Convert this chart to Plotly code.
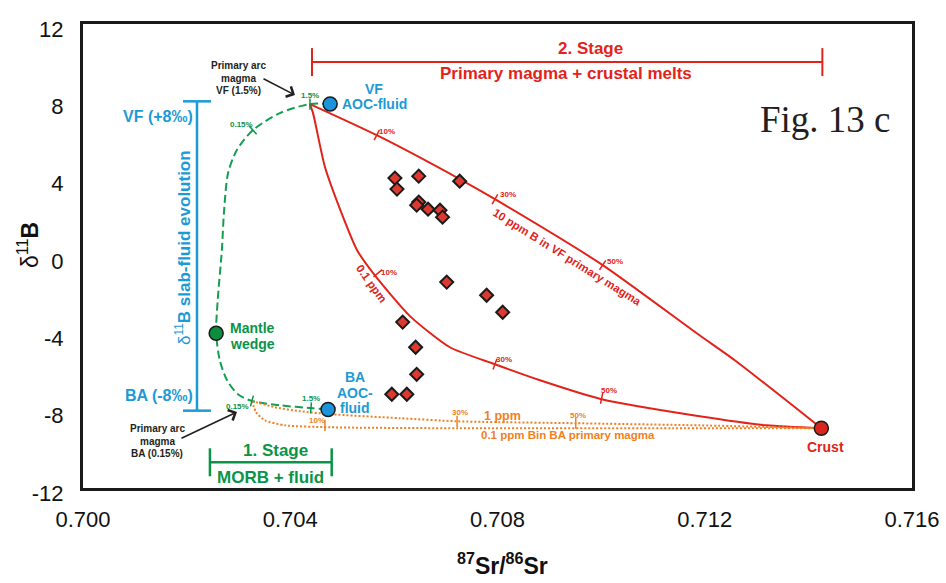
import plotly.graph_objects as go

# ---------------- data ----------------
x_ticks = [0.700, 0.704, 0.708, 0.712, 0.716]
x_tick_labels = ["0.700", "0.704", "0.708", "0.712", "0.716"]
y_ticks = [12, 8, 4, 0, -4, -8, -12]
y_tick_labels = ["12", "8", "4", "0", "-4", "-8", "-12"]

# measured samples (87Sr/86Sr, d11B)
sample_sr = [0.70602, 0.70606, 0.70648, 0.70727, 0.70648, 0.70644, 0.70666, 0.70689, 0.70694,
             0.70702, 0.70779, 0.70810, 0.70617, 0.70642, 0.70644, 0.70596, 0.70625]
sample_b = [4.03, 3.46, 4.13, 3.87, 2.79, 2.63, 2.42, 2.37, 2.01,
            -1.35, -2.03, -2.91, -3.42, -4.72, -6.12, -7.15, -7.15]

# slab-fluid evolution curve (VF AOC-fluid -> mantle wedge -> BA AOC-fluid)
slab_fluid_sr = [0.70477, 0.70438, 0.70380, 0.70328, 0.70297, 0.70280, 0.70272, 0.70268, 0.70260,
                 0.70257, 0.70264, 0.70278, 0.70299, 0.70326, 0.70380, 0.70444, 0.70473]
slab_fluid_b = [7.86, 7.86, 7.39, 6.51, 5.48, 4.29, 2.22, 0.30, -2.29,
                -3.99, -5.39, -6.43, -7.15, -7.50, -7.72, -7.88, -7.94]

# VF primary magma - crust mixing (10 ppm B)
vf_10ppm_sr = [0.70438, 0.70567, 0.70727, 0.70795, 0.71003, 0.71190, 0.71258, 0.71425]
vf_10ppm_b = [7.86, 6.25, 3.98, 2.94, -0.47, -4.10, -5.39, -8.91]
# VF primary magma - crust mixing (0.1 ppm B)
vf_01ppm_sr = [0.70438, 0.70444, 0.70467, 0.70502, 0.70529, 0.70563, 0.70631, 0.70708,
               0.70795, 0.70882, 0.71001, 0.71190, 0.71319, 0.71425]
vf_01ppm_b = [7.86, 7.39, 4.60, 2.01, 0.30, -0.99, -3.11, -4.72,
              -5.60, -6.43, -7.41, -8.29, -8.76, -8.91]
# BA primary magma - crust mixing (1 ppm B)
ba_1ppm_sr = [0.70326, 0.70370, 0.70419, 0.70477, 0.70612, 0.70722, 0.70951, 0.71190, 0.71425]
ba_1ppm_b = [-7.50, -7.82, -8.03, -8.18, -8.39, -8.55, -8.65, -8.76, -8.91]
# BA primary magma - crust mixing (0.1 ppm B)
ba_01ppm_sr = [0.70326, 0.70334, 0.70351, 0.70390, 0.70477, 0.70722, 0.71138, 0.71425]
ba_01ppm_b = [-7.50, -8.08, -8.50, -8.76, -8.86, -8.91, -8.91, -8.91]

# end members
aoc_fluid_sr = [0.70477, 0.70473]
aoc_fluid_b = [7.86, -7.94]
mantle_sr = [0.70257]
mantle_b = [-4.0]
crust_sr = [0.71425]
crust_b = [-8.91]

# percentage marks on mixing curves
red_mark_sr = [0.70567, 0.70795, 0.71003, 0.70569, 0.70795, 0.71001]
red_mark_b = [6.25, 2.94, -0.47, -0.89, -5.60, -7.36]
red_mark_text = ["10%", "30%", "50%", "10%", "30%", "50%"]
orange_mark_sr = [0.70722, 0.70951, 0.70467]
orange_mark_b = [-8.55, -8.65, -8.76]
orange_mark_text = ["30%", "50%", "10%"]
green_mark_sr = [0.70438, 0.70328, 0.70326, 0.70440]
green_mark_b = [7.86, 6.51, -7.50, -7.86]
green_mark_text = ["1.5%", "0.15%", "0.15%", "1.5%"]

# stage / range bars
slab_range_sr = [0.7022, 0.7022]
slab_range_b = [8, -8]
stage1_sr = [0.70245, 0.70480]
stage1_b = [-10.67, -10.67]
stage2_sr = [0.70442, 0.71427]
stage2_b = [10.03, 10.03]

# ---------------- styles ----------------
RED = "#e2231a"
BLUE = "#1c9ad6"
GREEN = "#0a9448"
ORANGE = "#f07f22"
FONT = "Liberation Sans"

W, H = 946, 583
ML, MR, MT, MB = 83, 34, 24, 95
PW, PH = W - ML - MR, H - MT - MB

fig = go.Figure()

# slab-fluid curve
fig.add_trace(go.Scatter(x=slab_fluid_sr, y=slab_fluid_b, mode="lines",
                         line=dict(color="#12a050", width=2, dash="8px,4px", shape="spline", smoothing=0.8),
                         hoverinfo="skip"))
# mixing curves
fig.add_trace(go.Scatter(x=vf_10ppm_sr, y=vf_10ppm_b, mode="lines",
                         line=dict(color=RED, width=2, shape="spline", smoothing=0.6), hoverinfo="skip"))
fig.add_trace(go.Scatter(x=vf_01ppm_sr, y=vf_01ppm_b, mode="lines",
                         line=dict(color=RED, width=2, shape="spline", smoothing=0.6), hoverinfo="skip"))
fig.add_trace(go.Scatter(x=ba_1ppm_sr, y=ba_1ppm_b, mode="lines",
                         line=dict(color=ORANGE, width=2, dash="2px,2px", shape="spline", smoothing=0.6),
                         hoverinfo="skip"))
fig.add_trace(go.Scatter(x=ba_01ppm_sr, y=ba_01ppm_b, mode="lines",
                         line=dict(color=ORANGE, width=2, dash="2px,2px", shape="spline", smoothing=0.6),
                         hoverinfo="skip"))

# percent marks
fig.add_trace(go.Scatter(x=red_mark_sr, y=red_mark_b, mode="markers",
                         marker=dict(symbol="line-ns", size=8, angle=[28, 30, 34, 50, 20, 12],
                                     line=dict(color=RED, width=1.5)), hoverinfo="skip"))
fig.add_trace(go.Scatter(x=orange_mark_sr, y=orange_mark_b, mode="markers",
                         marker=dict(symbol="line-ns", size=8, line=dict(color=ORANGE, width=1.5)),
                         hoverinfo="skip"))
fig.add_trace(go.Scatter(x=green_mark_sr, y=green_mark_b, mode="markers",
                         marker=dict(symbol="line-ns", size=8, angle=[0, -41, 15, 4],
                                     line=dict(color=GREEN, width=1.5)), hoverinfo="skip"))

# range bars
fig.add_trace(go.Scatter(x=slab_range_sr, y=slab_range_b, mode="lines+markers",
                         line=dict(color=BLUE, width=2.5),
                         marker=dict(symbol="line-ew", size=20, line=dict(color=BLUE, width=2.5)),
                         hoverinfo="skip"))
fig.add_trace(go.Scatter(x=stage1_sr, y=stage1_b, mode="lines+markers",
                         line=dict(color=GREEN, width=2.5),
                         marker=dict(symbol="line-ns", size=20, line=dict(color=GREEN, width=2.5)),
                         hoverinfo="skip"))
fig.add_trace(go.Scatter(x=stage2_sr, y=stage2_b, mode="lines+markers",
                         line=dict(color=RED, width=2),
                         marker=dict(symbol="line-ns", size=20, line=dict(color=RED, width=2)),
                         hoverinfo="skip"))

# samples
fig.add_trace(go.Scatter(x=sample_sr, y=sample_b, mode="markers",
                         marker=dict(symbol="diamond", size=10, color="#dc3a31",
                                     line=dict(color="#1a1a1a", width=2)), hoverinfo="skip"))
# end members
fig.add_trace(go.Scatter(x=aoc_fluid_sr, y=aoc_fluid_b, mode="markers",
                         marker=dict(symbol="circle", size=14, color="#1b94dc",
                                     line=dict(color="#1a1a1a", width=1.5)), hoverinfo="skip"))
fig.add_trace(go.Scatter(x=mantle_sr, y=mantle_b, mode="markers",
                         marker=dict(symbol="circle", size=14, color="#0b8f3f",
                                     line=dict(color="#1a1a1a", width=1.5)), hoverinfo="skip"))
fig.add_trace(go.Scatter(x=crust_sr, y=crust_b, mode="markers",
                         marker=dict(symbol="circle", size=14, color="#d9261c",
                                     line=dict(color="#1a1a1a", width=1.5)), hoverinfo="skip"))

annotations = []


def pos(px, py):
    return (px - ML) / PW, (MT + PH - py) / PH


def txt(s, px, py, color, size, angle=0, xanchor="center", family=FONT, bold=True):
    x, y = pos(px, py)
    annotations.append(dict(text=("<b>%s</b>" % s) if bold else s, x=x, y=y, xref="paper", yref="paper",
                            showarrow=False, xanchor=xanchor, yanchor="middle", textangle=angle,
                            font=dict(family=family, size=size, color=color)))


def arrow(hx, hy, tx, ty):
    x, y = pos(hx, hy)
    annotations.append(dict(text="", x=x, y=y, xref="paper", yref="paper", ax=tx - hx, ay=ty - hy,
                            axref="pixel", ayref="pixel", showarrow=True, arrowhead=4, arrowsize=1.4,
                            arrowwidth=1.6, arrowcolor="#231f20"))


DARK = "#231f20"
# primary arc magma notes
for s, yy in zip(["Primary arc", "magma", "VF (1.5%)"], [65, 78, 91]):
    txt(s, 238, yy, DARK, 10)
arrow(295, 95, 262, 78)
for s, yy in zip(["Primary arc", "magma", "BA (0.15%)"], [428, 441, 453]):
    txt(s, 157, yy, DARK, 10)
arrow(237, 412, 180, 439)

# AOC fluids
txt("VF", 374, 89, BLUE, 14)
txt("AOC-fluid", 374, 104, BLUE, 14)
for s, yy in zip(["BA", "AOC-", "fluid"], [377, 393, 408]):
    txt(s, 355, yy, BLUE, 14)
# mantle
txt("Mantle", 228, 328, GREEN, 14, xanchor="left")
txt("wedge", 228, 344, GREEN, 14, xanchor="left")
# slab fluid range
txt("VF (+8‰)", 195, 116, BLUE, 16, xanchor="right")
txt("BA (-8‰)", 195, 395, BLUE, 16, xanchor="right")
annotations.append(dict(text="δ<sup>11</sup><b>B slab-fluid evolution</b>", x=pos(183, 248)[0],
                        y=pos(183, 248)[1], xref="paper", yref="paper", showarrow=False,
                        xanchor="center", yanchor="middle", textangle=-90,
                        font=dict(family=FONT, size=17, color=BLUE)))
# stages
txt("1. Stage", 275, 450, GREEN, 17)
txt("MORB + fluid", 270, 477, GREEN, 17)
txt("2. Stage", 590, 48, RED, 17)
txt("Primary magma + crustal melts", 566, 74, RED, 17)
# crust
txt("Crust", 825, 447, RED, 14)
# figure label
txt("Fig. 13 c", 825, 120, "#231f20", 37, family="Liberation Serif", bold=False)
# curve labels
txt("10 ppm B in VF primary magma", 567, 257, RED, 11.5, angle=32)
txt("0.1 ppm", 371, 283, RED, 11.5, angle=54)
txt("1 ppm", 502, 416, ORANGE, 12.5)
txt("0.1 ppm Bin BA primary magma", 568, 435, ORANGE, 11.5)
# percentage labels
for s, (px, py) in zip(red_mark_text, [(387, 131), (508, 194), (615, 261), (389, 272), (504, 359), (609, 390)]):
    txt(s, px, py, RED, 8)
for s, (px, py) in zip(orange_mark_text, [(460, 412), (578, 415), (317, 420)]):
    txt(s, px, py, ORANGE, 8)
for s, (px, py) in zip(green_mark_text, [(310, 95), (241, 124), (237, 406), (311, 398)]):
    txt(s, px, py, GREEN, 8)

# axis titles
annotations.append(dict(text="<b><sup>87</sup>Sr/<sup>86</sup>Sr</b>", x=pos(502, 564)[0], y=pos(502, 564)[1],
                        xref="paper", yref="paper", showarrow=False, xanchor="center", yanchor="middle",
                        font=dict(family=FONT, size=23, color="#111")))
annotations.append(dict(text="δ<sup>11</sup><b>B</b>", x=pos(28, 245)[0], y=pos(28, 245)[1],
                        xref="paper", yref="paper", showarrow=False, xanchor="center", yanchor="middle",
                        textangle=-90, font=dict(family=FONT, size=23, color="#111")))

fig.update_layout(
    width=W, height=H,
    margin=dict(l=ML, r=MR, t=MT, b=MB, autoexpand=False),
    plot_bgcolor="white", paper_bgcolor="white",
    showlegend=False,
    annotations=annotations,
    xaxis=dict(range=[0.700, 0.716], tickvals=x_ticks, ticktext=x_tick_labels, automargin=False,
               showgrid=False, zeroline=False, showline=True, mirror=True, linewidth=3,
               linecolor="#1a1a1a", ticks="", ticklabelstandoff=10,
               tickfont=dict(family=FONT, size=22, color="#111")),
    yaxis=dict(range=[-12, 12], tickvals=y_ticks, ticktext=y_tick_labels, automargin=False,
               showgrid=False, zeroline=False, showline=True, mirror=True, linewidth=3,
               linecolor="#1a1a1a", ticks="", ticklabelstandoff=12, ticklabelshift=5,
               tickfont=dict(family=FONT, size=22, color="#111")),
)

fig.write_html("out.html", config={"displayModeBar": False},
               post_script="document.body.style.margin='0';document.body.style.overflow='hidden';")
